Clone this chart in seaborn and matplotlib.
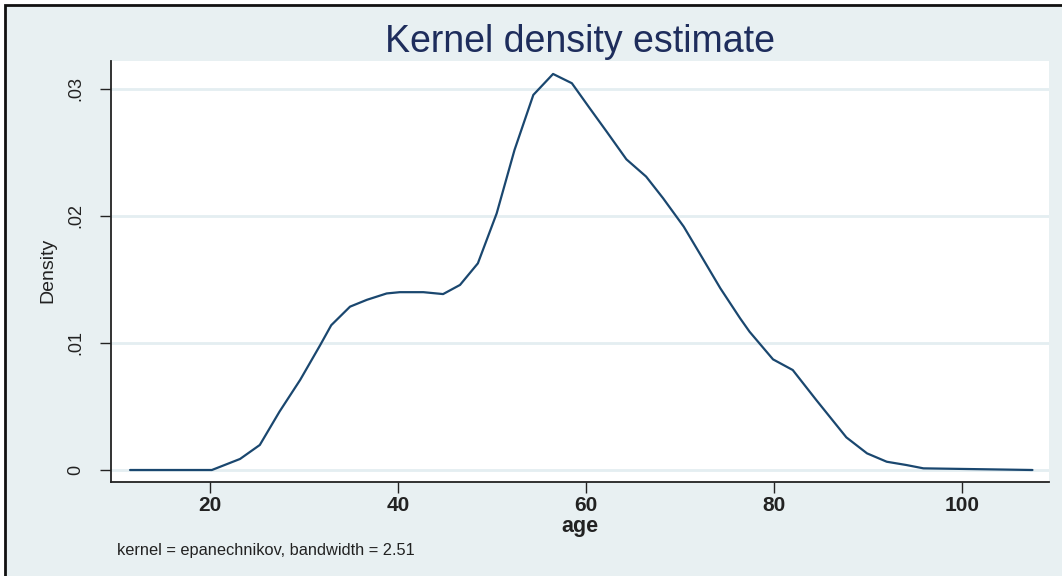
import matplotlib
matplotlib.use("Agg")
import matplotlib.pyplot as plt
from matplotlib.patches import Rectangle
import seaborn as sns
import pandas as pd

# Epanechnikov kernel density of age (bandwidth 2.51)
age = [11.5, 20.2, 21.1, 23.2, 25.3, 27.4, 29.6, 31.7, 32.9, 34.9,
       36.7, 38.8, 40.2, 42.7, 44.8, 46.6, 48.5, 50.5, 52.4, 54.4,
       56.5, 58.5, 60.4, 62.2, 64.3, 66.4, 68.2, 70.4, 72.3, 74.3,
       76.4, 77.4, 79.9, 82.0, 84.5, 87.7, 89.9, 92.0, 94.1, 95.9, 107.5]
density = [0.0, 0.0, 0.00026, 0.00087, 0.00197, 0.0046, 0.0071, 0.0098, 0.0114, 0.01286,
           0.0134, 0.0139, 0.0140, 0.0140, 0.01385, 0.01457, 0.01627, 0.0202, 0.0252, 0.02953,
           0.03118, 0.03045, 0.02848, 0.02664, 0.02446, 0.0231, 0.0214, 0.01916, 0.0168, 0.0143,
           0.01194, 0.01089, 0.00871, 0.00787, 0.00551, 0.00257, 0.00131, 0.00065, 0.00039, 0.00013, 0.0]

x_ticks = [20, 40, 60, 80, 100]
y_ticks = [0.0, 0.01, 0.02, 0.03]
y_tick_labels = ["0", ".01", ".02", ".03"]

title_text = "Kernel density estimate"
x_label = "age"
y_label = "Density"
note_text = "kernel = epanechnikov, bandwidth = 2.51"

sns.set_theme(style="white")
plt.rcParams["font.family"] = ["Liberation Sans", "DejaVu Sans"]

W, H = 1062, 576
fig = plt.figure(figsize=(W / 100, H / 100), dpi=100, facecolor="white")

region = "#e8f0f2"
# graph region with a dark frame along the top and left
fig.patches.append(Rectangle((5 / W, -0.05), 1.1, 1 - 5 / H + 0.05,
                             transform=fig.transFigure, facecolor=region,
                             edgecolor="#111111", linewidth=2.0, zorder=-10))

ax = fig.add_axes([111 / W, 1 - 482 / H, (1049 - 111) / W, (482 - 61) / H])
ax.set_facecolor("white")
ax.set_zorder(1)

df = pd.DataFrame({"age": age, "density": density})
sns.lineplot(data=df, x="age", y="density", ax=ax, color="#1a476f",
             linewidth=1.6, sort=False, zorder=3)

ax.set_xlim(9.47, 109.26)
ax.set_ylim(-0.000945, 0.0322)
ax.set_xticks(x_ticks)
ax.set_xticklabels([str(t) for t in x_ticks], fontsize=15, fontweight="bold",
                   color="#222222")
ax.set_yticks(y_ticks)
ax.set_yticklabels(y_tick_labels, fontsize=13, rotation=90, va="center",
                   color="#222222")

for y in y_ticks:
    ax.axhline(y, color="#e4eef1", linewidth=2.0, zorder=1)

for s in ["top", "right"]:
    ax.spines[s].set_visible(False)
for s in ["left", "bottom"]:
    ax.spines[s].set_color("#222222")
    ax.spines[s].set_linewidth(1.3)

ax.tick_params(axis="both", which="major", direction="out", length=8,
               width=1.0, color="#222222", left=True, bottom=True)
ax.tick_params(axis="x", pad=2.2)
ax.tick_params(axis="y", pad=11)

ax.set_xlabel("")
ax.set_ylabel("")

# place the axis title directly beneath the tick labels
fig.canvas.draw()
renderer = fig.canvas.get_renderer()
label_bottom = min(t.get_window_extent(renderer).y0 for t in ax.get_xticklabels())
fig.text(580 / W, (label_bottom - 1) / H, x_label, ha="center", va="top",
         fontsize=15.5, fontweight="bold", color="#222222")

fig.text(48 / W, 1 - 270 / H, y_label, ha="center", va="center",
         rotation=90, fontsize=14, color="#222222")
fig.text(580 / W, 1 - 42 / H, title_text, ha="center", va="center",
         fontsize=27, color="#1e2d5c")
fig.text(117 / W, 1 - 551 / H, note_text, ha="left", va="center",
         fontsize=11.8, color="#222222")

fig.savefig("out.png", dpi=100, facecolor="white")
